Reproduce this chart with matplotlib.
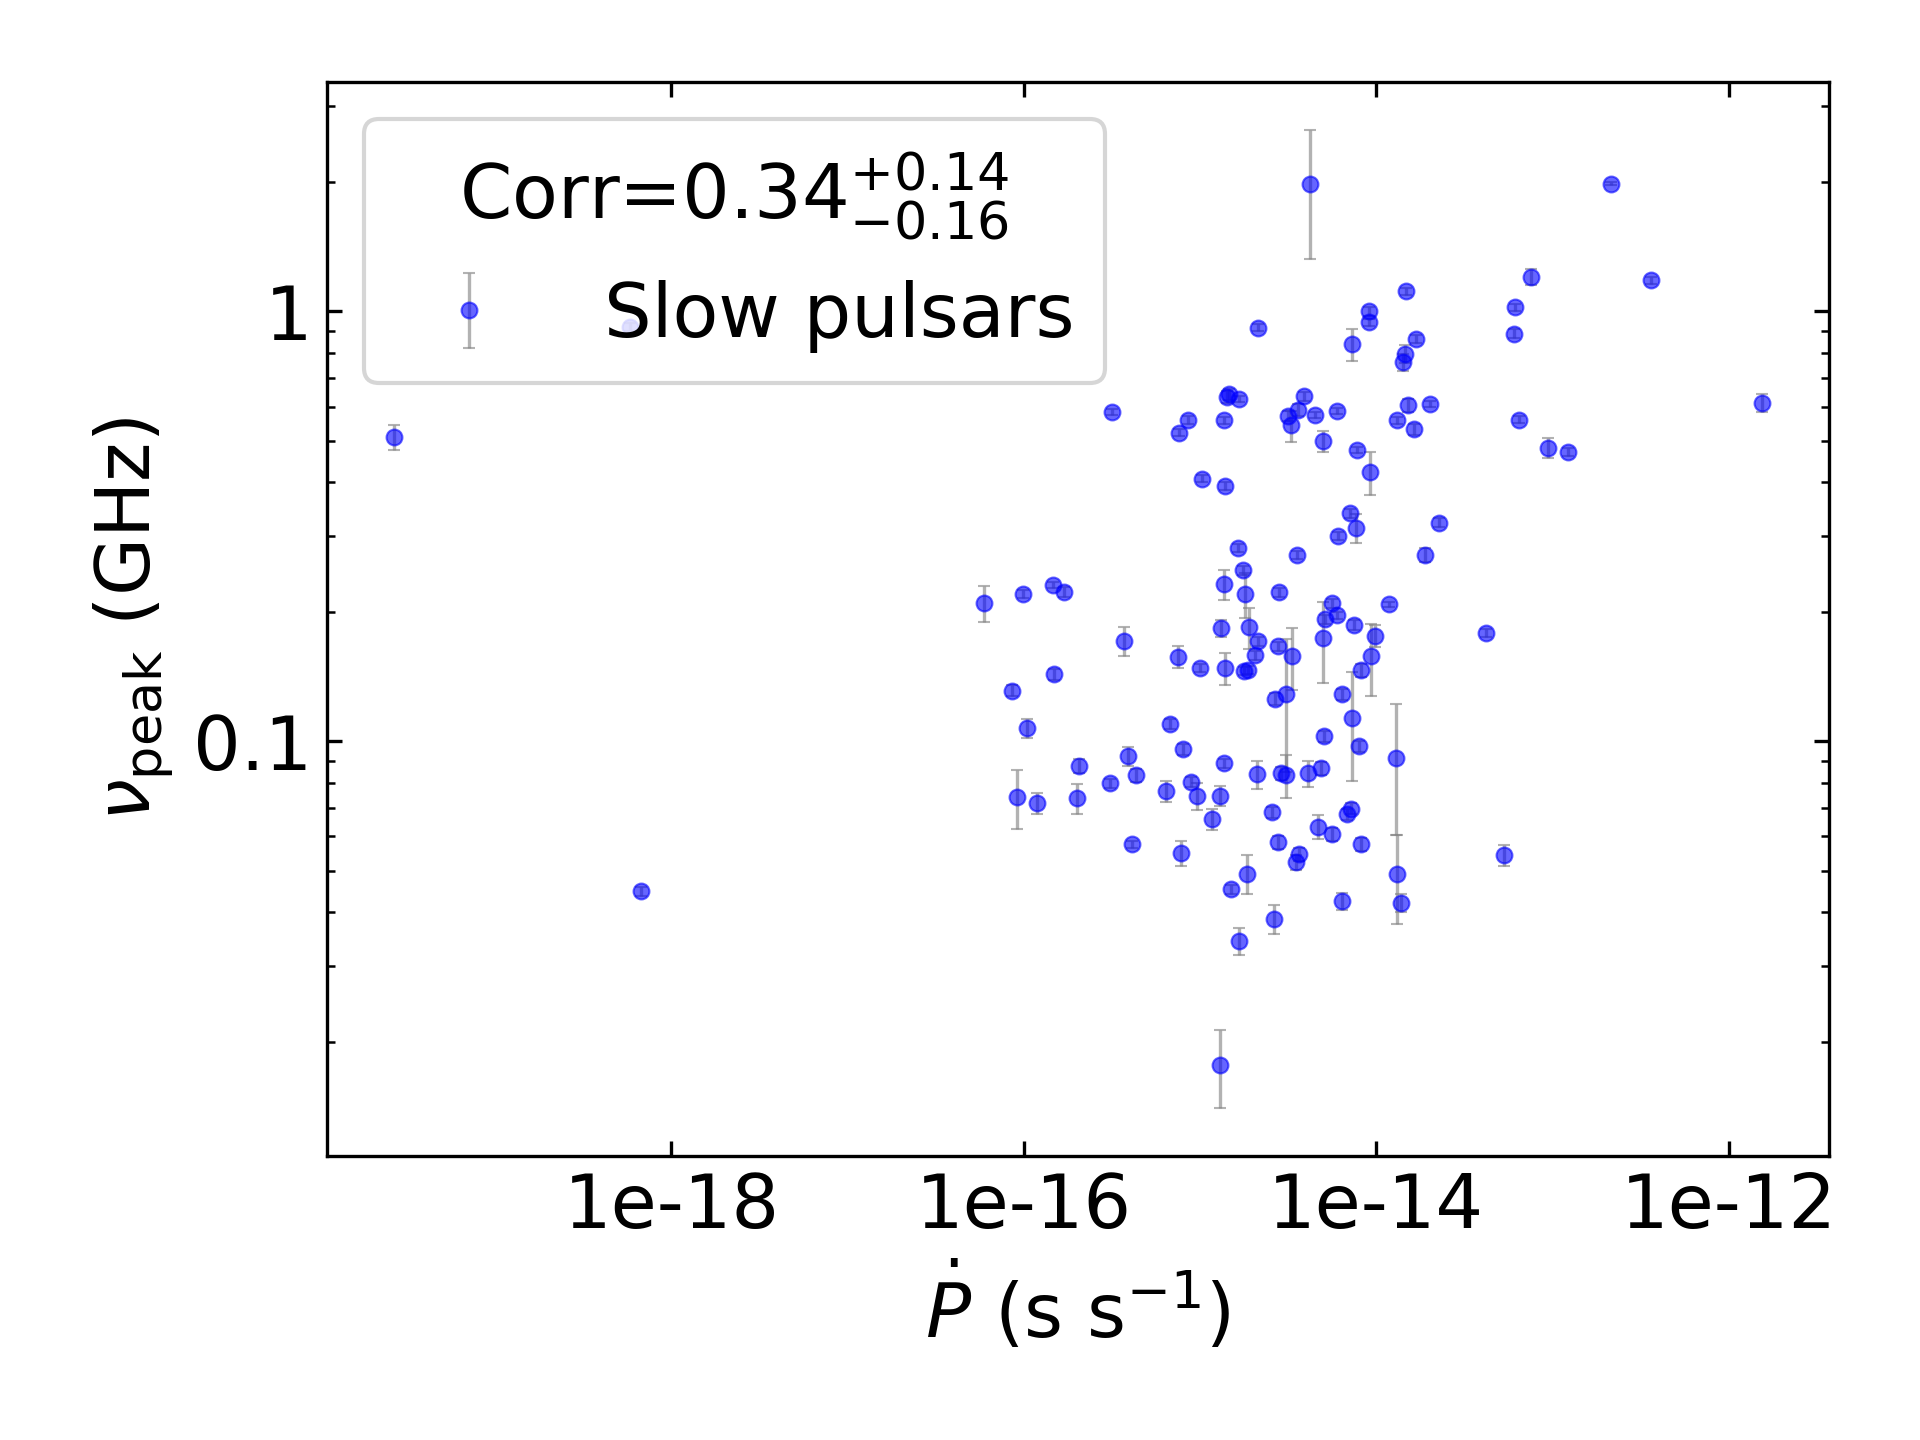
import matplotlib
matplotlib.use('Agg')
import matplotlib.pyplot as plt
from matplotlib.ticker import FuncFormatter, NullLocator, LogLocator

# Period derivative (s/s), peak frequency (GHz) and its 1-sigma error
pdot = [2.67e-20, 6.76e-19, 5.81e-19, 5.96e-17, 9.93e-17, 1.46e-16, 1.69e-16, 3.72e-16,
        7.52e-16, 9.97e-16, 1.49e-16, 8.59e-17, 1.04e-16, 6.75e-16, 8.04e-16, 2.06e-16,
        3.91e-16, 4.32e-16, 3.09e-16, 9.18e-17, 1.19e-16, 2.01e-16, 6.40e-16, 8.87e-16,
        9.64e-16, 1.17e-15, 4.12e-16, 7.82e-16, 1.30e-15, 3.18e-16, 8.57e-16, 7.62e-16,
        1.03e-15, 4.22e-15, 1.48e-14, 9.05e-15, 9.12e-15, 7.31e-15, 1.69e-14, 1.46e-14,
        1.42e-14, 2.14e-15, 1.46e-15, 1.42e-15, 1.67e-15, 1.37e-15, 3.90e-15, 3.60e-15,
        3.15e-15, 3.30e-15, 4.51e-15, 5.98e-15, 5.00e-15, 7.80e-15, 9.24e-15, 1.52e-14,
        2.03e-14, 1.32e-14, 1.64e-14, 1.39e-15, 7.10e-15, 7.67e-15, 6.08e-15, 2.27e-14,
        1.65e-15, 3.56e-15, 1.90e-14, 1.37e-15, 1.76e-15, 1.81e-15, 1.90e-15, 1.32e-15,
        2.14e-15, 2.06e-15, 1.39e-15, 1.77e-15, 1.88e-15, 2.81e-15, 2.78e-15, 3.34e-15,
        2.66e-15, 3.08e-15, 2.90e-15, 3.08e-15, 5.62e-15, 5.11e-15, 5.96e-15, 5.00e-15,
        7.46e-15, 9.87e-15, 9.37e-15, 8.18e-15, 1.19e-14, 6.41e-15, 7.31e-15, 5.05e-15,
        7.98e-15, 1.30e-14, 1.36e-15, 2.11e-15, 4.09e-15, 4.85e-15, 1.30e-15, 2.56e-15,
        4.69e-15, 5.62e-15, 6.84e-15, 7.21e-15, 8.22e-15, 2.78e-15, 3.66e-15, 3.50e-15,
        1.85e-15, 1.50e-15, 2.64e-15, 1.67e-15, 6.41e-15, 1.32e-14, 1.38e-14, 2.16e-13,
        7.59e-14, 3.64e-13, 6.15e-14, 6.07e-14, 1.55e-12, 6.49e-14, 9.46e-14, 1.23e-13,
        4.21e-14, 5.32e-14]

nu_peak = [0.509, 0.0447, 0.918, 0.209, 0.220, 0.231, 0.222, 0.171,
           0.157, 0.148, 0.143, 0.131, 0.107, 0.1095, 0.0957, 0.0876,
           0.0921, 0.0832, 0.0797, 0.0740, 0.0716, 0.0736, 0.0764, 0.0803,
           0.0746, 0.0658, 0.0575, 0.0548, 0.01764, 0.583, 0.558, 0.521,
           0.408, 1.98, 1.111, 1.0, 0.941, 0.837, 0.861, 0.796,
           0.760, 0.916, 0.640, 0.632, 0.624, 0.557, 0.634, 0.589,
           0.571, 0.542, 0.573, 0.586, 0.498, 0.475, 0.422, 0.604,
           0.608, 0.557, 0.531, 0.392, 0.3385, 0.313, 0.2997, 0.322,
           0.2807, 0.2708, 0.2708, 0.2314, 0.2495, 0.2194, 0.1838, 0.1828,
           0.1706, 0.1582, 0.1476, 0.1455, 0.1463, 0.2218, 0.166, 0.1576,
           0.1254, 0.1286, 0.0841, 0.0832, 0.2094, 0.1919, 0.196, 0.1733,
           0.1862, 0.1758, 0.1574, 0.1463, 0.208, 0.1284, 0.1129, 0.1027,
           0.0972, 0.0912, 0.0888, 0.0837, 0.0841, 0.0864, 0.0747, 0.0683,
           0.0632, 0.0607, 0.0676, 0.0696, 0.0575, 0.0581, 0.0545, 0.0522,
           0.0492, 0.0452, 0.0385, 0.0343, 0.0424, 0.0491, 0.0421, 1.98,
           1.20, 1.179, 1.021, 0.887, 0.613, 0.559, 0.481, 0.471,
           0.1783, 0.0543]

nu_err = [0.033, 0.001, 0.02, 0.020, 0.005, 0.004, 0.006, 0.013,
          0.009, 0.003, 0.004, 0.004, 0.0054, 0.003, 0.003, 0.0035,
          0.0046, 0.003, 0.002, 0.0117, 0.004, 0.006, 0.0044, 0.002,
          0.0053, 0.0036, 0.001, 0.0037, 0.0036, 0.01, 0.012, 0.01,
          0.008, 0.655, 0.02, 0.025, 0.02, 0.072, 0.02, 0.04,
          0.035, 0.015, 0.02, 0.02, 0.01, 0.01, 0.015, 0.02,
          0.015, 0.045, 0.01, 0.01, 0.027, 0.008, 0.049, 0.02,
          0.01, 0.01, 0.015, 0.008, 0.008, 0.024, 0.006, 0.008,
          0.006, 0.006, 0.01, 0.019, 0.006, 0.026, 0.020, 0.008,
          0.004, 0.004, 0.0125, 0.003, 0.003, 0.005, 0.004, 0.026,
          0.004, 0.044, 0.003, 0.0094, 0.005, 0.005, 0.004, 0.037,
          0.005, 0.0103, 0.030, 0.005, 0.003, 0.004, 0.032, 0.003,
          0.003, 0.0308, 0.002, 0.0063, 0.006, 0.003, 0.004, 0.002,
          0.004, 0.002, 0.002, 0.002, 0.002, 0.002, 0.002, 0.002,
          0.005, 0.001, 0.003, 0.0025, 0.002, 0.0115, 0.002, 0.02,
          0.05, 0.02, 0.02, 0.02, 0.03, 0.01, 0.025, 0.01,
          0.004, 0.003]

corr_label = r'Corr=$0.34^{+0.14}_{-0.16}$'

plt.rcParams['font.size'] = 18

fig, ax = plt.subplots(figsize=(6.4, 4.8), dpi=300)
fig.subplots_adjust(left=0.1703, right=0.9526, bottom=0.1972, top=0.9431)

ax.errorbar(pdot, nu_peak, yerr=nu_err, fmt='o', color='blue', ecolor='gray',
            alpha=0.6, markersize=3.8, markeredgewidth=0.5, capsize=1.45,
            elinewidth=0.8, label='Slow pulsars')

ax.set_xscale('log')
ax.set_yscale('log')
ax.set_xlim(10 ** -19.955, 10 ** -11.43)
ax.set_ylim(10 ** -1.965, 10 ** 0.533)

ax.set_xticks([1e-18, 1e-16, 1e-14, 1e-12])
ax.xaxis.set_minor_locator(NullLocator())
ax.yaxis.set_major_locator(LogLocator(base=10))
ax.yaxis.set_minor_locator(LogLocator(base=10, subs=range(2, 10)))
fmt = FuncFormatter(lambda v, _: '{:g}'.format(v))
ax.xaxis.set_major_formatter(fmt)
ax.yaxis.set_major_formatter(fmt)
ax.yaxis.set_minor_formatter(FuncFormatter(lambda v, _: ''))
ax.tick_params(which='both', direction='in', top=True, right=True)

ax.set_xlabel(r'$\dot{P}$ (s s$^{-1}$)')
ax.set_ylabel(r'$\nu_{\rm peak}$ (GHz)')

ax.legend(loc='upper left', title=corr_label, fontsize=18, title_fontsize=18)

plt.savefig('out.png', dpi=300)
